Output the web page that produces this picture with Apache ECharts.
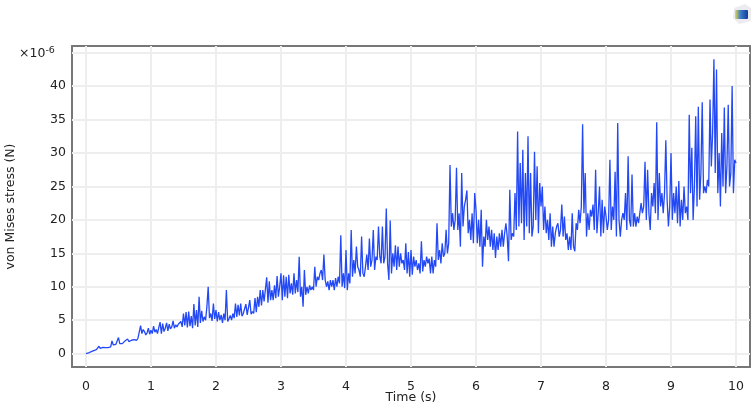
<!DOCTYPE html>
<html><head><meta charset="utf-8">
<script src="https://cdn.jsdelivr.net/npm/echarts@6/dist/echarts.min.js"></script>
<style>html,body{margin:0;padding:0;background:#fff}#c{width:756px;height:407px}</style>
</head><body><div id="c"></div>
<script>
const xTicks=[0,1,2,3,4,5,6,7,8,9,10];
const yTicks=[0,5,10,15,20,25,30,35,40,45];
const stepSeconds=0.02;
const stress0=[0,.05,.1,.2,.3,.35,.45,.5,.6,.65,1.1,.8,.9,.95,.85,.9,.95,.9,1,1,1.9,1.3,1.4,1.4,1.5,2.4,1.5,1.6,1.5,1.6,1.9,1.7,2.2,1.8,1.9,2,2.1,2.1,2.2,2,2.3,2.5,4.2,3,3.6,3.3,2.8,3.1,3.8,2.9];
const stress1=[3.5,3,4.1,3.2,3.6,3,3.9,4.7,3,4.5,3.3,3.8,4.6,3.4,4.4,3.7,4,4.9,3.8,4.3,4,4.4,4.2,4.8,4,6,4.2,6.2,3.9,6.3,4.1,5.6,3.8,7.4,4.2,6.5,4,8.5,4.6,6.4,4.8,5.5,5,7,10,5.3,6,4.9,7.5,5.2];
const stress2=[6.5,4.8,6.2,5,5.8,4.6,6,5,9.5,4.8,5.2,5.7,5,6,5.3,7.5,5.5,7.3,5.7,7.5,5.6,6,6,7.4,5.8,6,8,5.9,6.3,6,8.3,6.2,8.5,7,9.5,7.2,9.5,7.8,8,11.4,7.6,10.8,8,9.5,8,10.2,8.3,11.6,8.5,10];
const stress3=[12,8,11.7,8.5,11.5,8.3,11.8,9,10.5,8.8,12,9,11,9.2,14.5,8.5,10,7,12.5,8.8,10,9,10.2,9.5,10,9.5,13,10,11.5,11,12,12.5,11,14.8,11,10,10.8,9.5,11,10,11,9.5,11.3,10,11.5,10.5,17.7,10,12,9.8];
const stress4=[15.5,9.5,12,10.5,18.5,11.5,14,12,16,13,12.5,11.5,17.5,12,11.5,13,14.8,12.5,17.2,13,14,18.5,12.5,14.5,14,19,14.5,13.5,19,13.5,14.5,21.7,13.5,11,19.9,12,15,13,16.2,12.5,16,13,15,13.5,14,12.5,16.5,12,15.2,11.5];
const stress5=[15.5,11.8,14.5,13,14,12.5,13.5,12,16.8,12.3,14,13,14.5,13.5,14.2,12,14.5,12,14,13,19.5,14,15.5,13.5,16.5,14.5,15,18.5,15,16.5,28.2,19,21,18.5,20,27.8,18.5,21,16,27,19,22,23,24.4,18,20,17,21,16.5,24];
const stress6=[21.5,16.5,20,16,21.5,13,17.5,16,20,17,19,16,18.5,15.5,18,14.3,17.5,15.5,18,16,18.5,16,18,19.5,17.5,13.8,24.5,17,18,17.5,24,18.5,33.2,19,28.5,19.5,30.5,17,27,19,32.5,18,27,17.5,19,30.2,20,28,18,25.5];
const stress7=[22,25,18.5,22,18,20,17,21,16,19,16,18,19,19.5,17.5,18.5,22.3,17.5,20.5,17,18,15.5,17.5,15.5,21,16,15.3,19.5,18.5,21.5,19.5,22,34.3,21,27,17.5,21,18.5,21.5,20.5,22.3,18.5,27.5,18,21,25,17.5,23,18,22];
const stress8=[20.5,18.5,20,29,18.5,22,20,27.2,17.5,34.5,20,17.5,20,21,20,24,18.5,29.5,20,19,26.8,19,21,19,20.5,19.5,21,22.5,21,22,28.7,20,27.5,21,18.5,24,22,25.5,21,34.6,20,27,22,24,21,24,31.9,23,19,22];
const stress9=[30,20,24,21,25,19.5,25.8,19,23,20,25,21,22,20,35.7,24,30.8,20,25,35.5,22,36.9,23,27,37.6,24,25,24,26,25,38,28,33,44,27,42.5,24,30,22,33,25,36.8,24,28,37.2,25,27,40,24,29,28.5];
const stress=[].concat(stress0,stress1,stress2,stress3,stress4,stress5,stress6,stress7,stress8,stress9);
const points=stress.map((v,i)=>[+(i*stepSeconds).toFixed(2),v]);

const frame='#777777', gridC='#eeeeee', txt='#222222', font='"DejaVu Sans"';
const xBase={type:'value',min:-0.215,max:10.215,interval:1,
  axisLine:{show:true,onZero:false,lineStyle:{color:frame,width:2}},
  axisTick:{show:true,inside:true,length:5,lineStyle:{color:frame,width:2},customValues:xTicks},
  splitLine:{show:false}};
const yBase={type:'value',min:-2,max:46,interval:5,
  axisLine:{show:true,onZero:false,lineStyle:{color:frame,width:2}},
  axisTick:{show:true,inside:true,length:5,lineStyle:{color:frame,width:2},customValues:yTicks},
  splitLine:{show:false}};
const chart=echarts.init(document.getElementById('c'),null,{renderer:'canvas'});
chart.setOption({
  animation:false,backgroundColor:'#fff',
  grid:{left:72,right:6,top:46,bottom:40,containLabel:false,outerBoundsMode:'none'},
  xAxis:[
    Object.assign({},xBase,{position:'bottom',name:'Time (s)',nameLocation:'middle',nameGap:31,nameMoveOverlap:false,
      nameTextStyle:{fontFamily:font,fontSize:12.5,color:txt,verticalAlign:'middle'},
      axisLabel:{customValues:xTicks,fontFamily:font,fontSize:12.5,color:txt,margin:13,showMinLabel:true,showMaxLabel:true},
      splitLine:{show:false}}),
    Object.assign({},xBase,{position:'top',axisLabel:{show:false}})
  ],
  yAxis:[
    Object.assign({},yBase,{position:'left',name:'von Mises stress (N)',nameLocation:'middle',nameGap:55,
      nameTextStyle:{fontFamily:font,fontSize:12.5,color:txt},
      axisLabel:{customValues:yTicks.slice(0,-1),fontFamily:font,fontSize:12.5,color:txt,margin:6}}),
    Object.assign({},yBase,{position:'right',axisLabel:{show:false}})
  ],
  title:{left:19,top:46,padding:0,text:'{a|×10}{b|-6}',textStyle:{fontWeight:'normal',rich:{
    a:{fontFamily:font,fontSize:12.5,fontWeight:'normal',color:txt,verticalAlign:'bottom',lineHeight:14},
    b:{fontFamily:font,fontSize:9.5,fontWeight:'normal',color:txt,verticalAlign:'top',lineHeight:14,padding:[0,0,5,0]}}}},
  series:[
    {type:'line',xAxisIndex:0,yAxisIndex:0,data:[],silent:true,
     markLine:{silent:true,symbol:'none',label:{show:false},z:1,
       lineStyle:{color:gridC,width:2,type:'solid'},
       data:xTicks.map(v=>({xAxis:v})).concat(yTicks.map(v=>({yAxis:v})))}},
    {type:'line',xAxisIndex:0,yAxisIndex:0,data:points,showSymbol:false,symbol:'none',z:5,
     lineStyle:{color:'#2348f5',width:1.3},clip:true}
  ],
  graphic:[
    {type:'polygon',shape:{points:[[734,8],[745,4],[751,8],[751,21],[739,24],[733,18]]},style:{fill:'#ececf0'},silent:true},
    {type:'rect',shape:{x:735,y:10,width:13,height:9,r:1},silent:true,
     style:{fill:new echarts.graphic.LinearGradient(0,0,1,0,[{offset:0,color:'#e8d94a'},{offset:.4,color:'#3f7fc8'},{offset:1,color:'#123a9c'}])}}
  ]
});
</script></body></html>
